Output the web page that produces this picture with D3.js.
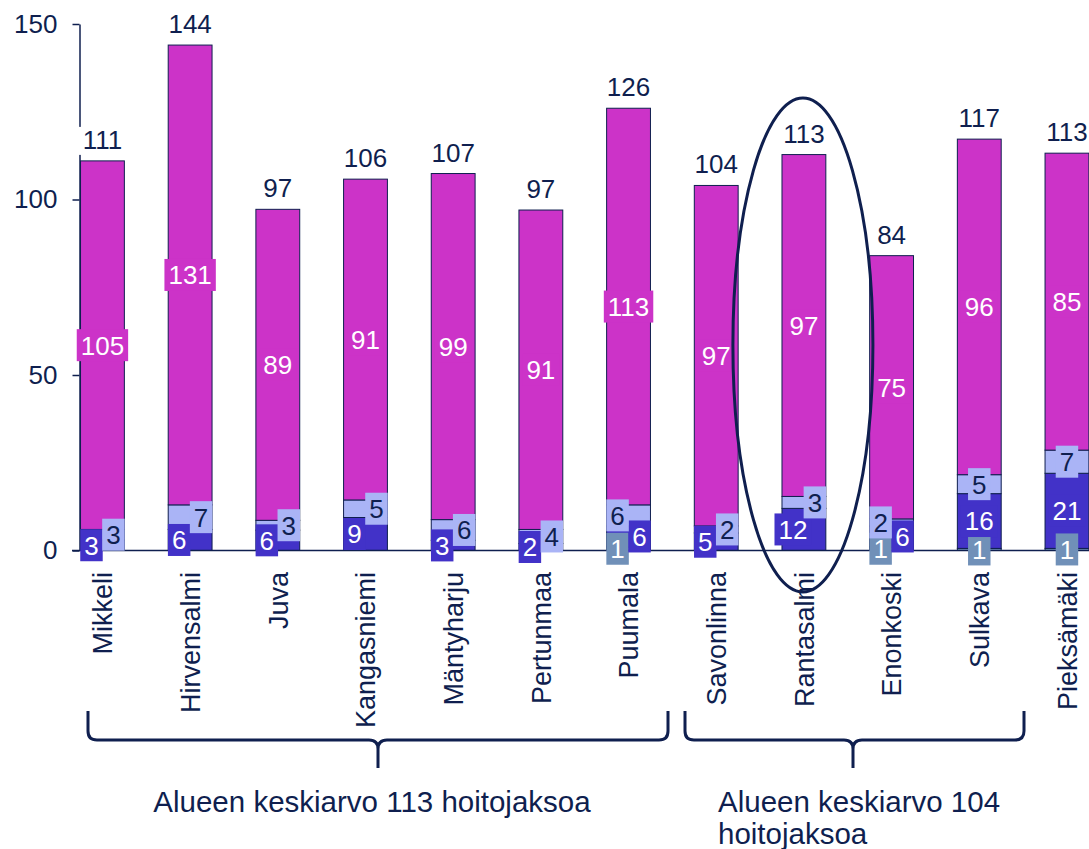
<!DOCTYPE html>
<html>
<head>
<meta charset="utf-8">
<script src="https://cdn.jsdelivr.net/npm/d3@7"></script>
<style>
body { margin: 0; background: #fff; }
svg { display: block; font-family: "Liberation Sans", Arial, sans-serif; }
</style>
</head>
<body>
<div class="container"></div>
<script>
const width = 1089;
const height = 849;

const categories = ["Mikkeli", "Hirvensalmi", "Juva", "Kangasniemi", "Mäntyharju", "Pertunmaa",
  "Puumala", "Savonlinna", "Rantasalmi", "Enonkoski", "Sulkava", "Pieksämäki"];
// stacked from the bottom up
const greyVals    = [0, 0, 0, 0, 0, 0, 1, 0, 0, 1, 0.6, 0.6];
const darkVals    = [3, 6, 5.8, 9.4, 2.9, 2, 6, 5, 12, 6, 15.6, 21.4];
const lightVals   = [3, 7, 2.8, 5, 5.9, 4, 6, 2, 3.4, 2, 5.4, 6.6];
const magentaVals = [105, 131, 88.6, 91.4, 98.6, 91, 113, 97, 97.4, 75, 95.6, 84.6];
const yTicks = [0, 50, 100, 150];
const group1Label = ["Alueen keskiarvo 113 hoitojaksoa"];
const group2Label = ["Alueen keskiarvo 104", "hoitojaksoa"];

const keys = ["grey", "dark", "light", "magenta"];
const fills = { grey: "#7090b8", dark: "#4232c8", light: "#aab4f6", magenta: "#cc33c8" };
const labelInk = { grey: "#fff", dark: "#fff", light: "#0f1f4f", magenta: "#fff" };
const navy = "#0f1f4f";
const fs = 26;

const rows = categories.map((c, i) => ({
  cat: c, grey: greyVals[i], dark: darkVals[i], light: lightVals[i], magenta: magentaVals[i]
}));

const svg = d3.select(".container").append("svg").attr("width", width).attr("height", height);

const x = d3.scaleBand().domain(categories).range([58.6, 1110.8]).paddingInner(0.5).paddingOuter(0.25);
const y = d3.scaleLinear().domain([0, 150]).range([550.5, 24]);
const bw = x.bandwidth();

const stacked = d3.stack().keys(keys)(rows);

// bars
svg.append("g").selectAll("g")
  .data(stacked)
  .enter().append("g")
    .attr("fill", d => fills[d.key])
  .selectAll("rect")
  .data(d => d.filter(s => s[1] - s[0] > 0))
  .enter().append("rect")
    .attr("x", d => x(d.data.cat))
    .attr("y", d => y(d[1]))
    .attr("width", bw)
    .attr("height", d => y(d[0]) - y(d[1]))
    .attr("stroke", navy)
    .attr("stroke-width", 1);

// axes
const yAxis = svg.append("g")
    .attr("transform", "translate(79.5,0)")
    .call(d3.axisLeft(y).tickValues(yTicks).tickSize(7).tickPadding(15).tickSizeOuter(0));
yAxis.select(".domain").attr("stroke", navy).attr("stroke-width", 1.5);
yAxis.selectAll(".tick line").attr("stroke", navy).attr("stroke-width", 1.5);
yAxis.selectAll(".tick text").attr("fill", navy).attr("font-size", fs).attr("font-family", null);

svg.append("line")
    .attr("x1", 72).attr("x2", width)
    .attr("y1", y(0)).attr("y2", y(0))
    .attr("stroke", navy).attr("stroke-width", 1.5);

// segment labels, small neighbours pushed left/right
const labelLayer = svg.append("g").attr("font-size", fs);
rows.forEach(r => {
  let cum = 0;
  const segs = [];
  keys.forEach(k => {
    const v = r[k];
    if (Math.round(v) > 0) segs.push({ k, v, cy: y(cum + v / 2), dx: 0 });
    cum += v;
  });
  let chain = [segs[0]];
  const flush = () => {
    if (chain.length > 1) chain.forEach((s, j) => s.dx = (j % 2 === 0 ? -1 : 1) * bw / 4);
  };
  for (let j = 1; j < segs.length; j++) {
    if (segs[j - 1].cy - segs[j].cy < 28) chain.push(segs[j]);
    else { flush(); chain = [segs[j]]; }
  }
  flush();

  segs.forEach(s => {
    const cx = x(r.cat) + bw / 2 + s.dx;
    const g = labelLayer.append("g");
    const t = g.append("text")
        .attr("x", cx).attr("y", s.cy).attr("dy", "0.36em")
        .attr("text-anchor", "middle")
        .attr("fill", labelInk[s.k])
        .text(d3.format(".0f")(s.v));
    const tw = t.node().getComputedTextLength();
    g.insert("rect", "text")
        .attr("x", cx - tw / 2 - 4).attr("y", s.cy - 16)
        .attr("width", tw + 8).attr("height", 32)
        .attr("fill", fills[s.k]);
  });
});

// totals
rows.forEach(r => {
  const total = keys.reduce((a, k) => a + r[k], 0);
  const cx = x(r.cat) + bw / 2;
  const g = svg.append("g").attr("font-size", fs);
  const t = g.append("text")
      .attr("x", cx).attr("y", y(total) - 12)
      .attr("text-anchor", "middle").attr("fill", navy)
      .text(d3.format(".0f")(total));
  const bb = t.node().getBBox();
  g.insert("rect", "text")
      .attr("x", bb.x - 4).attr("y", bb.y + 2)
      .attr("width", bb.width + 8).attr("height", bb.height - 2)
      .attr("fill", "#fff");
});

// category labels
svg.append("g").selectAll("text")
  .data(categories)
  .enter().append("text")
    .attr("transform", d => `translate(${x(d) + bw / 2},572) rotate(-90)`)
    .attr("dy", "0.36em")
    .attr("text-anchor", "end")
    .attr("font-size", 27)
    .attr("fill", navy)
    .text(d => d);

// group braces
function brace(x1, xm, x2) {
  const y0 = 711, y1 = 740, y2 = 768, r = 9;
  return `M${x1},${y0} L${x1},${y1 - r} Q${x1},${y1} ${x1 + r},${y1} L${xm - r},${y1} Q${xm},${y1} ${xm},${y1 + r} L${xm},${y2}` +
         ` M${xm},${y1 + r} Q${xm},${y1} ${xm + r},${y1} L${x2 - r},${y1} Q${x2},${y1} ${x2},${y1 - r} L${x2},${y0}`;
}
svg.append("path").attr("d", brace(88, 378, 668))
    .attr("fill", "none").attr("stroke", navy).attr("stroke-width", 3);
svg.append("path").attr("d", brace(685, 853, 1024))
    .attr("fill", "none").attr("stroke", navy).attr("stroke-width", 3);

svg.append("text")
    .attr("x", 372).attr("y", 812)
    .attr("text-anchor", "middle").attr("font-size", 29.5).attr("fill", navy)
    .text(group1Label[0]);
svg.append("text")
    .attr("x", 718).attr("y", 812)
    .attr("font-size", 29.5).attr("fill", navy)
  .selectAll("tspan")
  .data(group2Label)
  .enter().append("tspan")
    .attr("x", 718)
    .attr("dy", (d, i) => i ? 32 : 0)
    .text(d => d);

// highlight ring
svg.append("ellipse")
    .attr("cx", x("Rantasalmi") + bw / 2 - 1).attr("cy", 345)
    .attr("rx", 70).attr("ry", 247)
    .attr("fill", "none").attr("stroke", navy).attr("stroke-width", 3);
</script>
</body>
</html>
